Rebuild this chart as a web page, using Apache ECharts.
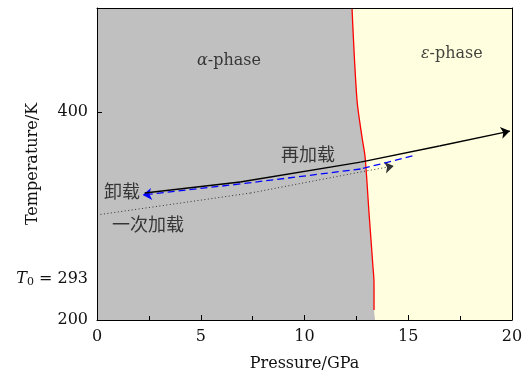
<!DOCTYPE html>
<html>
<head>
<meta charset="utf-8">
<script src="https://cdn.jsdelivr.net/npm/echarts@6/dist/echarts.min.js"></script>
<style>
  html, body { margin: 0; padding: 0; background: #fff; }
  #chart { width: 528px; height: 376px; }
</style>
</head>
<body>
<div id="chart"></div>
<script>
// alpha / epsilon phase boundary, [pressure GPa, temperature]
const boundary = [[12.29, 500], [12.53, 411.5], [12.77, 376], [12.92, 356.7], [13.11, 302.9], [13.30, 251], [13.35, 235.6], [13.35, 209.6]];
// gray alpha region = left edge + boundary + bottom
const alphaRegion = [[0, 500]].concat(boundary, [[13.4, 200], [0, 200]]);

// loading paths (direction of travel, arrow at the last point)
const reloadPath = [[2.3, 322.1], [6.9, 332.7], [12.7, 351.9], [16.5, 367.3], [19.9, 381.7]];
const unloadPath = [[15.2, 357.7], [12.7, 345.2], [6.9, 330.8], [2.2, 320.2]];
const firstLoadPath = [[0, 301], [7.4, 322.1], [12.7, 342.3], [14.3, 348.1]];

// y tick labels (the axis is drawn in plot units; T0 sits at 240 on it)
const yLabelValues = [200, 240, 400];
const yLabelTexts = ['200', '{i|T}{s|0} = 293', '400'];
const yTickValues = [400];

// text annotations
const annoTexts = ['{i|α}-phase', '{i|ε}-phase', '再加载', '卸载', '一次加载'];
const annoAt = [[6.36, 449], [17.1, 455.8], [10.17, 359.6], [1.2, 324], [2.46, 292.3]];

const SERIF = 'DejaVu Serif';
const CJK = 'Noto Sans CJK SC';
const TXT = '#111';

const chart = echarts.init(document.getElementById('chart'), null, { renderer: 'canvas' });

function segments(path) {
  const out = [];
  for (let i = 1; i < path.length; i++) {
    out.push({
      coords: [path[i - 1], path[i]],
      symbol: i === path.length - 1 ? ['none', 'arrow'] : ['none', 'none']
    });
  }
  return out;
}

const richItalic = {
  i: { fontFamily: SERIF, fontStyle: 'italic', fontSize: 16, color: TXT },
  s: { fontFamily: SERIF, fontSize: 11, color: TXT, verticalAlign: 'bottom', padding: [8, 0, 0, 0] }
};

const option = {
  animation: false,
  backgroundColor: '#fff',
  grid: {
    left: 97, right: 16, top: 8, bottom: 56,
    outerBoundsMode: 'none', containLabel: false,
    show: true, backgroundColor: '#ffffe0', borderWidth: 0
  },
  xAxis: [
    {
      type: 'value', min: 0, max: 20, interval: 5, z: 10,
      name: 'Pressure/GPa', nameLocation: 'middle', nameGap: 36, nameMoveOverlap: false,
      nameTextStyle: { fontFamily: SERIF, fontSize: 16, color: TXT },
      axisLine: { lineStyle: { color: '#000', width: 1 } },
      axisTick: { inside: true, length: 5, lineStyle: { color: '#000' } },
      minorTick: { show: true, splitNumber: 2, length: 4, lineStyle: { color: '#000' } },
      axisLabel: { margin: 9, fontFamily: SERIF, fontSize: 16, color: TXT },
      splitLine: { show: false }
    },
    {
      type: 'value', min: 0, max: 20, position: 'top', z: 10,
      axisLine: { show: true, onZero: false, lineStyle: { color: '#000', width: 1 } },
      axisTick: { show: false }, axisLabel: { show: false }, splitLine: { show: false }
    }
  ],
  yAxis: [
    {
      type: 'value', min: 200, max: 500, z: 10,
      name: 'Temperature/K', nameLocation: 'middle', nameGap: 56, nameMoveOverlap: false,
      nameTextStyle: { fontFamily: SERIF, fontSize: 16, color: TXT },
      axisLine: { show: true, lineStyle: { color: '#000', width: 1 } },
      axisTick: { show: true, inside: true, length: 5, customValues: yTickValues, lineStyle: { color: '#000' } },
      axisLabel: {
        margin: 9, fontFamily: SERIF, fontSize: 16, color: TXT,
        customValues: yLabelValues,
        formatter: v => yLabelTexts[yLabelValues.indexOf(v)] || '',
        rich: richItalic
      },
      splitLine: { show: false }
    },
    {
      type: 'value', min: 200, max: 500, position: 'right', z: 10,
      axisLine: { show: true, onZero: false, lineStyle: { color: '#000', width: 1 } },
      axisTick: { show: false }, axisLabel: { show: false }, splitLine: { show: false }
    }
  ],
  series: [
    {
      type: 'custom', z: 1, silent: true,
      data: alphaRegion,
      renderItem: (params, api) => {
        if (params.dataIndex !== 0) return;
        return {
          type: 'polygon',
          shape: { points: alphaRegion.map(p => api.coord(p)) },
          style: { fill: '#c0c0c0' }
        };
      }
    },
    {
      type: 'line', z: 3, data: boundary, showSymbol: false, symbol: 'none', smooth: 0.3,
      lineStyle: { color: '#ff0000', width: 1.3 }
    },
    {
      type: 'lines', coordinateSystem: 'cartesian2d', z: 4,
      data: segments(firstLoadPath), symbolSize: 9,
      lineStyle: { color: '#333', width: 1, type: [1, 2.5], opacity: 1 }
    },
    {
      type: 'lines', coordinateSystem: 'cartesian2d', z: 4,
      data: segments(unloadPath), symbolSize: 9,
      lineStyle: { color: '#0000ff', width: 1.3, type: [7, 4], opacity: 1 }
    },
    {
      type: 'lines', coordinateSystem: 'cartesian2d', z: 4,
      data: segments(reloadPath), symbolSize: 9,
      lineStyle: { color: '#000', width: 1.3, opacity: 1 }
    },
    {
      type: 'scatter', z: 5, symbolSize: 0, silent: true,
      data: annoAt.map((p, i) => ({
        value: p,
        label: {
          show: true, position: 'inside',
          formatter: annoTexts[i],
          fontFamily: i < 2 ? SERIF : CJK,
          fontSize: i < 2 ? 16 : 18,
          color: TXT,
          rich: richItalic
        }
      }))
    }
  ]
};

chart.setOption(option);
</script>
</body>
</html>
